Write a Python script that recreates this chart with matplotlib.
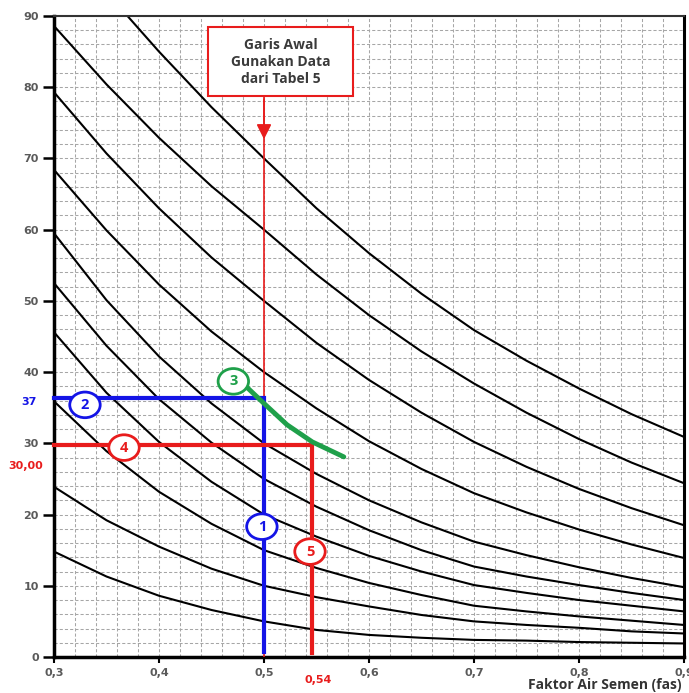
import matplotlib
matplotlib.use("Agg")
import matplotlib.pyplot as plt
import numpy as np
from matplotlib.patches import Ellipse, Rectangle

# faktor air semen (x) dan kuat tekan (y)
fas = [0.30, 0.35, 0.40, 0.45, 0.50, 0.55, 0.60, 0.65, 0.70, 0.75, 0.80, 0.85, 0.90]
fas_top = [0.37, 0.40, 0.45, 0.50, 0.55, 0.60, 0.65, 0.70, 0.75, 0.80, 0.85, 0.90]
curve_top = [90.0, 85.0, 77.2, 70.0, 63.0, 56.7, 51.0, 45.9, 41.6, 37.7, 34.1, 30.9]
curves = [
    [88.6, 80.4, 72.9, 66.1, 60.0, 53.7, 48.0, 42.9, 38.4, 34.3, 30.6, 27.3, 24.4],
    [79.3, 70.7, 63.0, 56.1, 50.0, 44.1, 38.9, 34.3, 30.2, 26.7, 23.6, 20.9, 18.5],
    [68.4, 59.9, 52.3, 45.7, 40.0, 34.9, 30.3, 26.4, 23.0, 20.3, 17.9, 15.8, 13.9],
    [59.5, 50.1, 42.2, 35.6, 30.0, 25.7, 22.0, 18.9, 16.2, 14.3, 12.6, 11.1, 9.8],
    [52.5, 43.7, 36.2, 30.1, 25.0, 21.1, 17.8, 15.0, 12.7, 11.3, 10.1, 9.0, 8.0],
    [45.6, 37.1, 30.2, 24.6, 20.0, 16.9, 14.2, 12.0, 10.1, 9.0, 8.0, 7.2, 6.4],
    [35.9, 28.9, 23.2, 18.7, 15.0, 12.5, 10.4, 8.7, 7.2, 6.4, 5.7, 5.1, 4.5],
    [23.9, 19.2, 15.5, 12.4, 10.0, 8.4, 7.1, 5.9, 5.0, 4.5, 4.1, 3.6, 3.3],
    [14.8, 11.3, 8.6, 6.6, 5.0, 3.8, 3.1, 2.7, 2.4, 2.3, 2.1, 2.0, 1.9],
]

# kurva hijau (langkah 3)
green_x = [0.471, 0.4835, 0.50, 0.522, 0.546, 0.576]
green_y = [38.7, 37.9, 35.6, 32.6, 30.2, 28.1]

fas_awal = 0.50
kuat_37 = 36.3
kuat_30 = 29.8
fas_hasil = 0.546
box_text = "Garis Awal\nGunakan Data\ndari Tabel 5"

# label lingkaran: nomor, x, y, warna
steps = [("1", 0.498, 18.3, "#1414e6"),
         ("2", 0.3295, 35.4, "#1414e6"),
         ("3", 0.4708, 38.7, "#1fa04a"),
         ("4", 0.3667, 29.4, "#e81c1c"),
         ("5", 0.5438, 14.8, "#e81c1c")]

blue = "#1414e6"
red = "#e81c1c"
green = "#1fa04a"

fig = plt.figure(figsize=(6.89, 6.93), dpi=100)
ax = fig.add_axes([54/689, 36/693, 630/689, 641/693])
ax.set_xlim(0.3, 0.9)
ax.set_ylim(0, 90)

ax.set_xticks(np.arange(0.3, 0.901, 0.1))
ax.set_xticks(np.arange(0.3, 0.901, 0.02), minor=True)
ax.set_yticks(np.arange(0, 91, 10))
ax.set_yticks(np.arange(0, 91, 2), minor=True)
ax.set_xticklabels([f"{v:.1f}".replace(".", ",") for v in np.arange(0.3, 0.901, 0.1)])
ax.grid(which="both", color="#a6a6a6", linestyle=(0, (3, 2)), linewidth=0.75)
ax.set_axisbelow(True)
ax.tick_params(which="minor", length=0)
ax.tick_params(axis="y", which="major", length=8, width=1.8, pad=3,
               labelsize=8, labelcolor="#5a5a5a")
ax.tick_params(axis="x", which="major", length=4, width=1.5, pad=4,
               labelsize=8, labelcolor="#5a5a5a")
for lab in ax.get_xticklabels() + ax.get_yticklabels():
    lab.set_fontweight("bold")
ax.spines["left"].set_linewidth(2.5)
ax.spines["bottom"].set_linewidth(2.5)
ax.spines["right"].set_linewidth(2.2)
ax.spines["top"].set_linewidth(1.5)
ax.spines["top"].set_color("#333333")

ax.plot(fas_top, curve_top, color="black", lw=1.5)
for c in curves:
    ax.plot(fas, c, color="black", lw=1.5)

# garis awal merah
ax.plot([fas_awal, fas_awal], [0, 78.7], color=red, lw=1.2, zorder=3)
ax.annotate("", xy=(fas_awal, 72.3), xytext=(fas_awal, 78.7),
            arrowprops=dict(arrowstyle="-|>,head_length=0.9,head_width=0.45",
                            color=red, lw=1.2), zorder=4)
ax.add_patch(Rectangle((0.4467, 78.7), 0.585 - 0.4467, 88.4 - 78.7,
                       facecolor="white", edgecolor=red, lw=1.5, zorder=5))
ax.text((0.4467 + 0.585) / 2, (78.7 + 88.4) / 2, box_text, ha="center", va="center",
        fontsize=10, fontweight="bold", color="#3a3a3a", linespacing=1.3,
        family="Open Sans", zorder=6)

# langkah 1 dan 2 (biru)
ax.plot([fas_awal, fas_awal, 0.3], [0.7, kuat_37, kuat_37], color=blue, lw=3,
        solid_joinstyle="miter", zorder=4, clip_on=False)

# langkah 4 dan 5 (merah)
ax.plot([0.3, fas_hasil, fas_hasil], [kuat_30, kuat_30, 0.5], color=red, lw=3,
        solid_joinstyle="miter", zorder=4, clip_on=False)

# langkah 3 (hijau)
ax.plot(green_x, green_y, color=green, lw=3.5, solid_capstyle="round", zorder=4)

for num, sx, sy, col in steps:
    ax.add_patch(Ellipse((sx, sy), 0.029, 3.6, facecolor="white", edgecolor=col,
                         lw=2, zorder=7))
    ax.text(sx, sy, num, ha="center", va="center", color=col, fontsize=10.5,
            fontweight="bold", family="Open Sans", zorder=8)

fig.text(37/689, 1 - 402/693, "37", ha="right", va="center", color=blue,
         fontsize=8, fontweight="bold")
fig.text(43/689, 1 - 466/693, "30,00", ha="right", va="center", color=red,
         fontsize=8, fontweight="bold")
fig.text(318/689, 1 - 680/693, "0,54", ha="center", va="center", color=red,
         fontsize=8, fontweight="bold")
fig.text(681/689, 1 - 685/693, "Faktor Air Semen (fas)", ha="right", va="center",
         color="#333333", fontsize=10, fontweight="bold", family="Open Sans")

fig.savefig("out.png", dpi=100)
